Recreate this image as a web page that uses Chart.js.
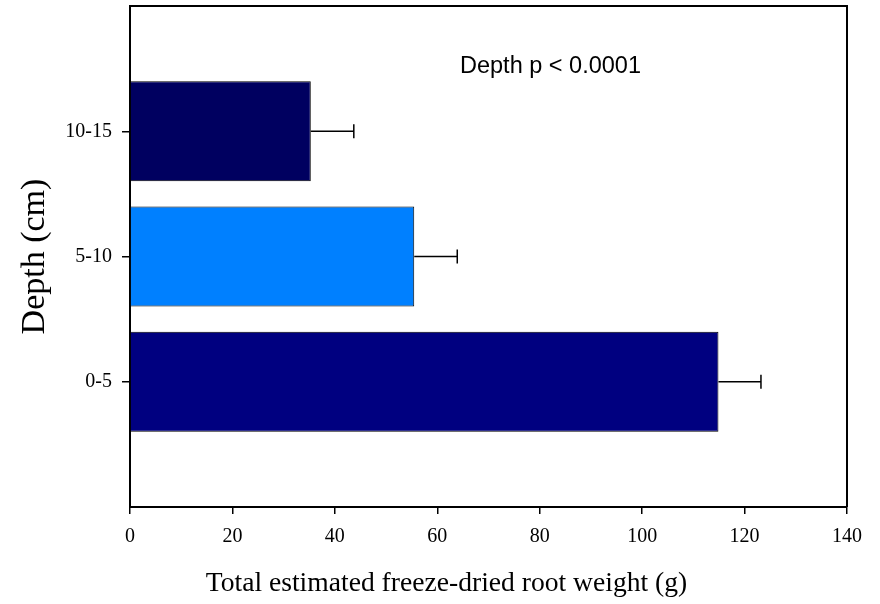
<!DOCTYPE html>
<html lang="en">
<head>
    <meta charset="UTF-8">
    <title>Root weight by depth</title>
    <script src="https://cdn.jsdelivr.net/npm/chart.js"></script>
    <style>
        body { margin: 0; background: #fff; }
        #wrap { width: 880px; height: 604px; }
    </style>
</head>
<body>
<div id="wrap"><canvas id="rootChart"></canvas></div>
<script>
    // depth classes, top to bottom as drawn
    const depthLabels = ['10-15', '5-10', '0-5'];
    const rootWeight = [35.3, 55.5, 114.9];
    const rootWeightSE = [8.4, 8.4, 8.3];
    const barColors = ['#000060', '#0080ff', '#000080'];
    const xTicks = [0, 20, 40, 60, 80, 100, 120, 140];

    const serif = "'Liberation Serif', 'Times New Roman', serif";

    // one empty slot above and below the bars
    const labels = [''].concat(depthLabels, ['']);
    const values = [null].concat(rootWeight, [null]);
    const errors = [null].concat(rootWeightSE, [null]);
    const colors = ['#fff'].concat(barColors, ['#fff']);

    // right-hand error whiskers
    const errorBars = {
        id: 'errorBars',
        afterDatasetsDraw(chart) {
            const ctx = chart.ctx;
            const xs = chart.scales.x, ys = chart.scales.y;
            ctx.save();
            ctx.strokeStyle = '#000';
            ctx.lineWidth = 1.5;
            values.forEach((v, i) => {
                if (v === null) return;
                const x0 = xs.getPixelForValue(v);
                const x1 = xs.getPixelForValue(v + errors[i]);
                const y = ys.getPixelForValue(i);
                ctx.beginPath();
                ctx.moveTo(x0, y);
                ctx.lineTo(x1, y);
                ctx.moveTo(x1, y - 7);
                ctx.lineTo(x1, y + 7);
                ctx.stroke();
            });
            ctx.restore();
        }
    };

    // closes the box, writes the p value and the x title (sits left of the axis centre in the original)
    const frameAndNote = {
        id: 'frameAndNote',
        afterDraw(chart) {
            const ctx = chart.ctx;
            const a = chart.chartArea;
            ctx.save();
            ctx.strokeStyle = '#000';
            ctx.lineWidth = 2;
            ctx.beginPath();
            ctx.moveTo(a.left, a.top);
            ctx.lineTo(a.right, a.top);
            ctx.lineTo(a.right, a.bottom);
            ctx.stroke();
            ctx.fillStyle = '#000';
            ctx.font = "23.5px 'Liberation Sans', Arial, sans-serif";
            ctx.textBaseline = 'alphabetic';
            ctx.fillText('Depth p < 0.0001', 460, 73);
            ctx.font = '27.6px ' + serif;
            ctx.textAlign = 'center';
            ctx.fillText('Total estimated freeze-dried root weight (g)', 446.5, 591);
            ctx.restore();
        }
    };

    new Chart(document.getElementById('rootChart'), {
        type: 'bar',
        data: {
            labels: labels,
            datasets: [{
                data: values,
                backgroundColor: colors,
                borderColor: '#000',
                borderWidth: 1,
                categoryPercentage: 0.8,
                barPercentage: 1
            }]
        },
        options: {
            indexAxis: 'y',
            responsive: true,
            maintainAspectRatio: false,
            animation: false,
            layout: { padding: { left: 0, top: 6, right: 33, bottom: 0 } },
            plugins: {
                legend: { display: false },
                tooltip: { enabled: false }
            },
            scales: {
                x: {
                    min: 0,
                    max: 140,
                    afterFit: (s) => { s.height = 97; },
                    afterBuildTicks: (s) => { s.ticks = xTicks.map(v => ({ value: v })); },
                    border: { display: true, color: '#000', width: 2 },
                    grid: { drawOnChartArea: false, drawTicks: true, tickLength: 7, color: '#000', lineWidth: 1.5 },
                    ticks: { color: '#000', padding: 11, font: { family: serif, size: 20 } }
                },
                y: {
                    offset: false,
                    afterFit: (s) => { s.width = 130; s.paddingTop = 0; s.paddingBottom = 0; },
                    border: { display: true, color: '#000', width: 2 },
                    grid: {
                        offset: false,
                        drawOnChartArea: false,
                        drawTicks: true,
                        tickLength: 8,
                        lineWidth: 1.5,
                        tickColor: (c) => (c.index === 0 || c.index === labels.length - 1) ? 'rgba(0,0,0,0)' : '#000'
                    },
                    ticks: { color: '#000', padding: 10, font: { family: serif, size: 20 } },
                    title: {
                        display: true,
                        text: 'Depth (cm)',
                        color: '#000',
                        font: { family: serif, size: 34, lineHeight: 1 },
                        padding: { top: 18, bottom: 0 }
                    }
                }
            }
        },
        plugins: [errorBars, frameAndNote]
    });
</script>
</body>
</html>
